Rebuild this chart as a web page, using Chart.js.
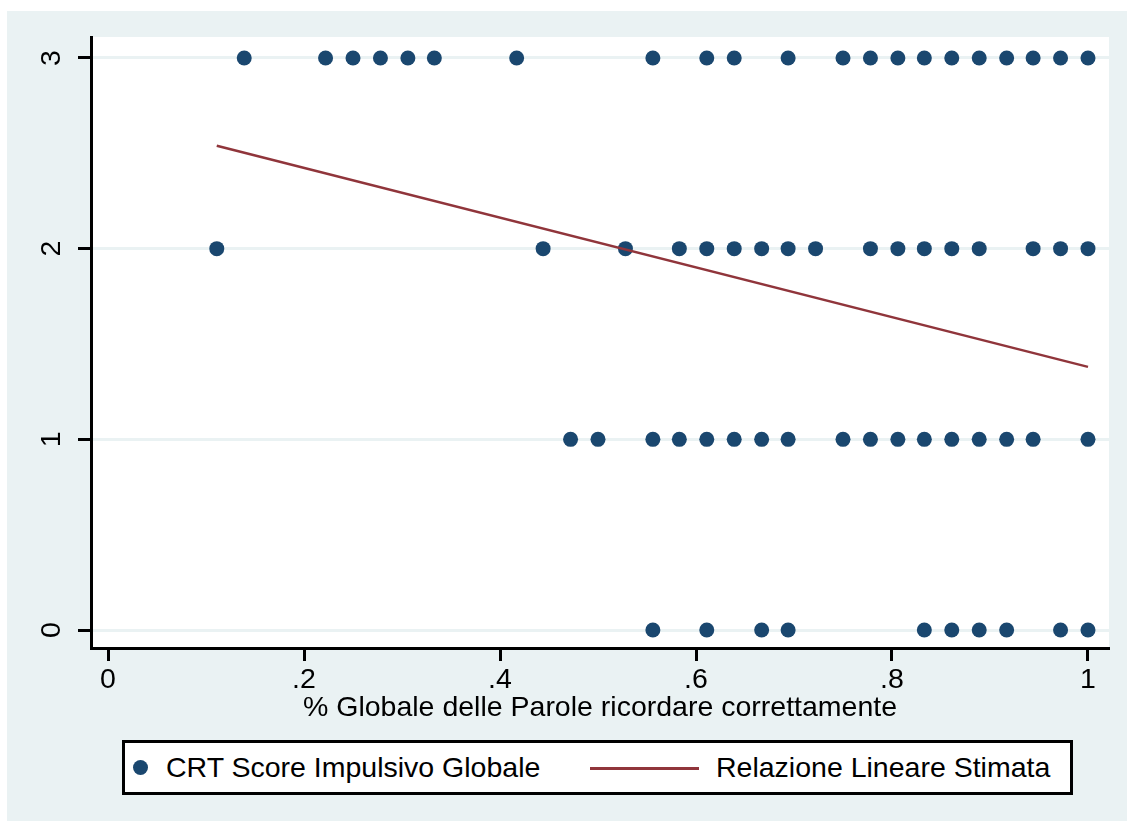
<!DOCTYPE html>
<html><head><meta charset="utf-8">
<script src="https://cdn.jsdelivr.net/npm/chart.js@4.4.1/dist/chart.umd.min.js"></script>
<style>
html,body{margin:0;padding:0;background:#fff;width:1127px;height:821px;overflow:hidden;font-family:"Liberation Sans",Arial,sans-serif;}
#bg{position:absolute;left:7px;top:11px;width:1120px;height:810px;background:#eaf2f3;}
#wrap{position:absolute;left:0;top:0;width:1127px;height:821px;}
#legend{position:absolute;left:122px;top:740px;width:945px;height:49px;border:3px solid #000;background:#fff;}
#legend .mk{position:absolute;left:7.5px;top:17px;width:15px;height:15px;border-radius:50%;background:#1a476f;}
#legend .ln{position:absolute;left:465px;top:23.5px;width:109px;height:3px;background:#90353b;}
#legend .tx{position:absolute;top:0;line-height:49px;font-size:28.5px;color:#000;white-space:nowrap;}
</style>
</head><body>
<div id="bg"></div>
<div id="wrap"><canvas id="c" width="1127" height="821"></canvas></div>
<div id="legend">
  <div class="mk"></div><span class="tx" style="left:41px">CRT Score Impulsivo Globale</span>
  <div class="ln"></div><span class="tx" style="left:591px">Relazione Lineare Stimata</span>
</div>
<script>
// CRT score levels and the % of words recalled for each observation at that level
const scoreLevels = [3, 2, 1, 0];
const pctAtScore3 = [0.139,0.222,0.25,0.278,0.306,0.333,0.417,0.556,0.611,0.639,0.694,0.75,0.778,0.806,0.833,0.861,0.889,0.917,0.944,0.972,1];
const pctAtScore2 = [0.111,0.444,0.528,0.583,0.611,0.639,0.667,0.694,0.722,0.778,0.806,0.833,0.861,0.889,0.944,0.972,1];
const pctAtScore1 = [0.472,0.5,0.556,0.583,0.611,0.639,0.667,0.694,0.75,0.778,0.806,0.833,0.861,0.889,0.917,0.944,1];
const pctAtScore0 = [0.556,0.611,0.667,0.694,0.833,0.861,0.889,0.917,0.972,1];
// estimated linear relation (fitted values)
const fitX = [0.111, 1];
const fitY = [2.54, 1.38];
// tick labels
const xTickValues = [0, 0.2, 0.4, 0.6, 0.8, 1];
const xTickLabels = ['0', '.2', '.4', '.6', '.8', '1'];
const yTickValues = [0, 1, 2, 3];
const yTickLabels = ['0', '1', '2', '3'];
const xTitle = '% Globale delle Parole ricordare correttamente';
const seriesNames = ['CRT Score Impulsivo Globale', 'Relazione Lineare Stimata'];

const F = "'Liberation Sans', Arial, sans-serif";
const groups = [pctAtScore3, pctAtScore2, pctAtScore1, pctAtScore0];
const pts = [];
groups.forEach((arr, i) => arr.forEach(x => pts.push({x: x, y: scoreLevels[i]})));
const fitData = fitX.map((x, i) => ({x: x, y: fitY[i]}));

const plotBg = {id:'plotbg', beforeDraw(c){const a=c.chartArea;const g=c.ctx;g.save();g.fillStyle='#fff';g.fillRect(a.left,a.top,a.right-a.left,a.bottom-a.top);g.restore();}};

new Chart(document.getElementById('c').getContext('2d'), {
  type: 'scatter',
  data: {datasets: [
    {type:'line', label: seriesNames[1], data: fitData, borderColor:'#90353b', backgroundColor:'#90353b', borderWidth:2.5, pointRadius:0, fill:false, tension:0, order:0},
    {label: seriesNames[0], data: pts, backgroundColor:'#1a476f', borderWidth:0, pointRadius:7.5, pointHoverRadius:7.5, pointStyle:'circle', order:1}
  ]},
  options: {
    responsive:false, animation:false, events:[],
    layout:{padding:{left:0, top:37, right:18, bottom:96}},
    plugins:{legend:{display:false}, tooltip:{enabled:false}},
    scales:{
      x:{type:'linear', min:-0.01735, max:1.02143,
        afterBuildTicks:s=>{s.ticks=xTickValues.map(v=>({value:v}));},
        afterFit:s=>{s.height=77;},
        ticks:{callback:(v)=>{const i=xTickValues.indexOf(v);return i>=0?xTickLabels[i]:'';}, font:{size:28.5,family:F}, color:'#000', padding:2, maxRotation:0, minRotation:0, autoSkip:false},
        grid:{drawOnChartArea:false, drawTicks:true, tickLength:13, tickColor:'#000', tickWidth:3},
        border:{display:true, color:'#000', width:3},
        title:{display:true, text:xTitle, font:{size:28.5,family:F}, color:'#000', padding:0}
      },
      y:{type:'linear', min:-0.0944, max:3.110,
        afterBuildTicks:s=>{s.ticks=yTickValues.map(v=>({value:v}));},
        afterFit:s=>{s.width=91;},
        ticks:{callback:(v)=>{const i=yTickValues.indexOf(v);return i>=0?yTickLabels[i]:'';}, font:{size:28.5,family:F}, color:'#000', padding:18, minRotation:90, maxRotation:90, crossAlign:'center', autoSkip:false},
        grid:{color:'#eaf2f3', lineWidth:3, drawTicks:true, tickLength:13, tickColor:'#000', tickWidth:3},
        border:{display:true, color:'#000', width:3}
      }
    }
  },
  plugins:[plotBg]
});
</script>
</body></html>
